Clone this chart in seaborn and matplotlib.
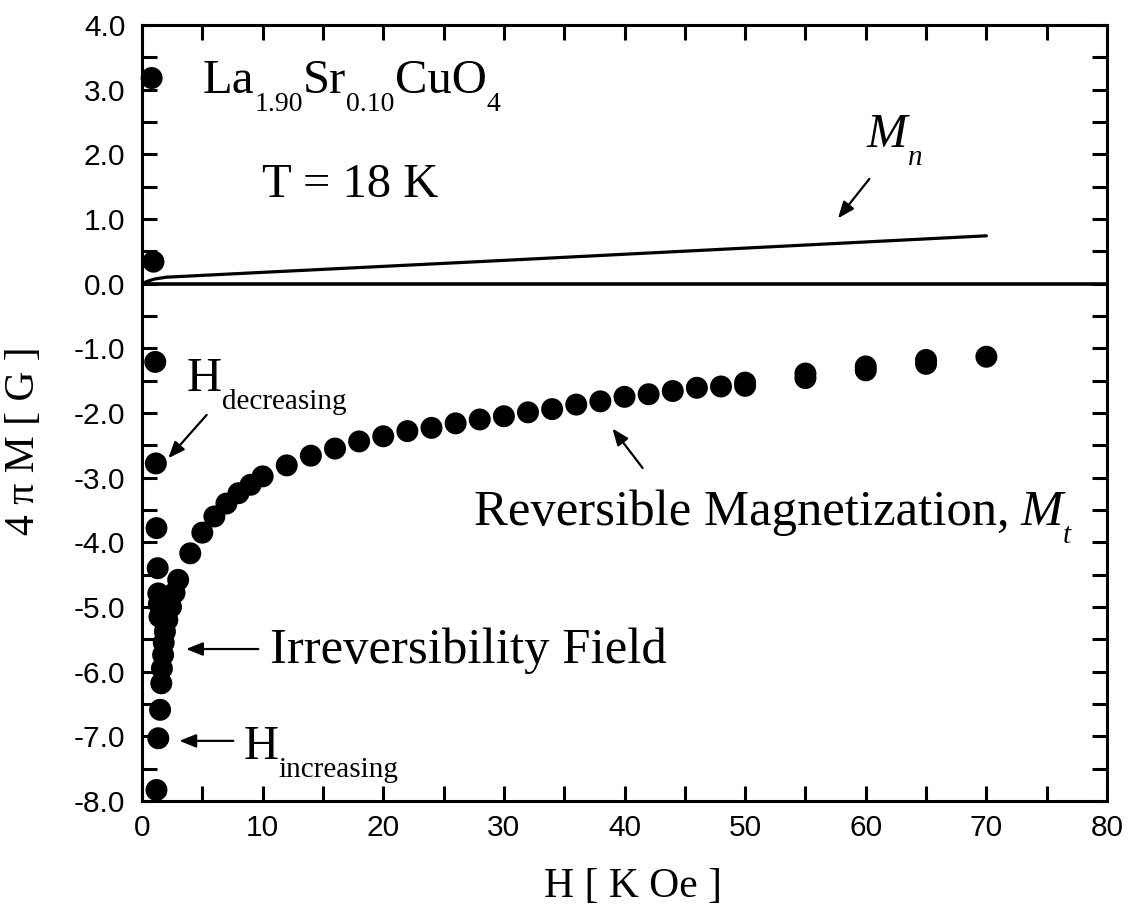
import matplotlib
matplotlib.use("Agg")
import matplotlib.pyplot as plt
import numpy as np
import pandas as pd
import seaborn as sns
from matplotlib.transforms import offset_copy
from matplotlib.ticker import MultipleLocator, FuncFormatter

# Field-increasing branch, low field up to 70 kOe
H_up = [1.2, 1.35, 1.5, 1.6, 1.65, 1.75, 1.8, 1.9, 2.1, 2.4, 2.7, 3.0,
        4, 5, 6, 7, 8, 9, 10, 12, 14, 16, 18, 20, 22, 24, 26, 28, 30,
        32, 34, 36, 38, 40, 42, 44, 46, 48, 50, 55, 60, 65, 70]
M_up = [-7.83, -7.03, -6.59, -6.18, -5.95, -5.74, -5.55, -5.38, -5.20, -5.00, -4.78, -4.58,
        -4.17, -3.85, -3.60, -3.40, -3.24, -3.11, -2.98, -2.81, -2.66, -2.55, -2.44, -2.36,
        -2.28, -2.23, -2.16, -2.10, -2.05, -1.99, -1.94, -1.87, -1.82, -1.75, -1.71, -1.66,
        -1.61, -1.59, -1.53, -1.39, -1.28, -1.18, -1.13]

# Field-decreasing branch
H_down = [65, 60, 55, 50, 1.45, 1.4, 1.35, 1.3, 1.2, 1.15, 1.1, 0.95, 0.8]
M_down = [-1.24, -1.34, -1.46, -1.58, -5.15, -4.95, -4.79, -4.40, -3.78, -2.78, -1.21, 0.34, 3.18]

# Normal-state magnetization M_n
H_n = [0, 0.5, 1, 2, 10, 30, 50, 70]
M_n = [0.0, 0.04, 0.07, 0.10, 0.175, 0.36, 0.55, 0.74]

x_ticks = [0, 10, 20, 30, 40, 50, 60, 70, 80]
y_ticks = [-8.0, -7.0, -6.0, -5.0, -4.0, -3.0, -2.0, -1.0, 0.0, 1.0, 2.0, 3.0, 4.0]

SERIF = "Liberation Serif"
MAIN = 35
WIDE = 36.5
SUBNUM = 20
SUBTXT = 21
SUB_DY = -18

sns.set_theme(style="ticks")
plt.rcParams["font.family"] = ["Liberation Sans", "DejaVu Sans"]
plt.rcParams["text.color"] = "black"
plt.rcParams["axes.labelcolor"] = "black"

fig = plt.figure(figsize=(11.29, 9.13), dpi=100)
ax = fig.add_axes([142 / 1129, 1 - 801 / 913, 965 / 1129, 776 / 913])

pts = pd.concat([
    pd.DataFrame({"H": H_up, "M": M_up, "branch": "up"}),
    pd.DataFrame({"H": H_down, "M": M_down, "branch": "down"}),
])
sns.scatterplot(data=pts, x="H", y="M", s=250, color="black", edgecolor="none",
                linewidth=0, legend=False, ax=ax, clip_on=False, zorder=3)
sns.lineplot(x=H_n, y=M_n, color="black", lw=2.3, ax=ax, sort=False, errorbar=None)
ax.axhline(0, color="black", lw=2.6)

ax.set_xlim(0, 80)
ax.set_ylim(-8, 4)
ax.set_xticks(x_ticks)
ax.set_yticks(y_ticks)
ax.xaxis.set_minor_locator(MultipleLocator(5))
ax.yaxis.set_minor_locator(MultipleLocator(0.5))
ax.xaxis.set_major_formatter(FuncFormatter(lambda v, p: f"{v:.0f}"))
ax.yaxis.set_major_formatter(FuncFormatter(lambda v, p: f"{v:.1f}"))
ax.tick_params(which="both", direction="in", length=10.8, width=2.2,
               top=True, right=True, colors="black", labelsize=21.5)
ax.tick_params(axis="x", which="both", pad=9.5)
ax.tick_params(axis="y", which="both", pad=12)
for sp in ax.spines.values():
    sp.set_linewidth(2.2)
    sp.set_color("black")

ax.set_xlabel("H [ K Oe ]", family=SERIF, fontsize=30, color="black")
ax.set_ylabel("4 π M [ G ]", family=SERIF, fontsize=30, color="black")
ax.xaxis.set_label_coords(0.509, -0.0863)
ax.yaxis.set_label_coords(-0.1026, 0.464)

renderer = fig.canvas.get_renderer()


def rich(x, y, parts):
    """Draw a run of text pieces with hand-placed subscripts, left to right."""
    dx = 0.0
    for s, size, dy, style in parts:
        if s is None:
            dx += size
            continue
        tr = offset_copy(ax.transData, fig=fig, x=dx, y=dy, units="dots")
        t = ax.text(x, y, s, transform=tr, fontsize=size, family=SERIF,
                    style=style, ha="left", va="baseline", color="black")
        dx += t.get_window_extent(renderer).width


rich(5.06, 2.95, [("La", MAIN, 0, "normal"), ("1.90", SUBNUM, SUB_DY, "normal"),
                  ("Sr", MAIN, 0, "normal"), ("0.10", SUBNUM, SUB_DY, "normal"),
                  ("CuO", MAIN, 0, "normal"), ("4", SUBNUM, SUB_DY, "normal")])
rich(9.92, 1.345, [("T = 18 K", MAIN, 0, "normal")])
rich(60.1, 2.12, [("M", MAIN, 0, "italic"), ("n", SUBTXT, SUB_DY, "italic")])
rich(3.7, -1.655, [("H", MAIN, 0, "normal"), ("decreasing", SUBTXT, SUB_DY, "normal")])
rich(10.6, -5.86, [("Irreversibility Field", WIDE, 0, "normal")])
rich(8.4, -7.355, [("H", MAIN, 0, "normal"), ("increasing", SUBTXT, SUB_DY, "normal")])
rich(27.5, -3.73, [("Reversible Magnetization,", WIDE, 0, "normal"), (None, 11, 0, None),
                   ("M", WIDE, 0, "italic"), ("t", SUBTXT, SUB_DY, "italic")])

arrow = dict(arrowstyle="-|>,head_length=0.5,head_width=0.2", color="black",
             lw=1.6, mutation_scale=20, shrinkA=0, shrinkB=0)
for tail, tip in [((60.3, 1.62), (57.7, 1.01)),
                  ((5.36, -2.03), (2.18, -2.70)),
                  ((9.64, -5.65), (3.65, -5.65)),
                  ((7.57, -7.07), (3.09, -7.07)),
                  ((41.5, -2.85), (39.0, -2.24))]:
    ax.annotate("", xy=tip, xytext=tail, arrowprops=arrow)

fig.savefig("out.png", dpi=100, facecolor="white")
